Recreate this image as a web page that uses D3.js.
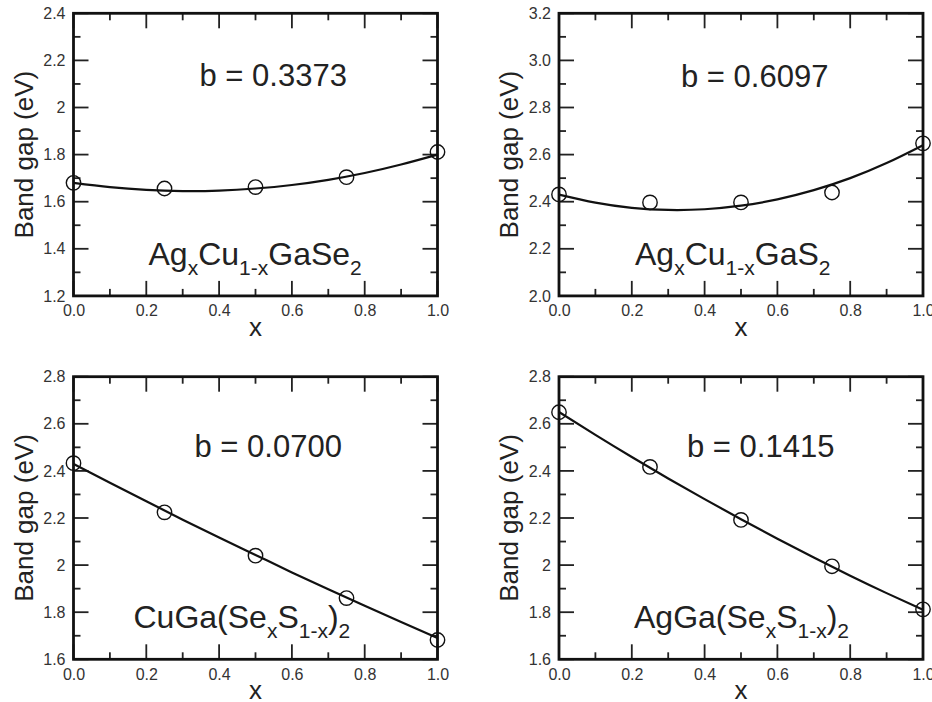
<!DOCTYPE html>
<html>
<head>
<meta charset="utf-8">
<script src="https://cdn.jsdelivr.net/npm/d3@7"></script>
<style>
  body { margin: 0; background: #fff; }
  text { font-family: "Liberation Sans", Arial, Helvetica, sans-serif; }
</style>
</head>
<body>
<div id="chart"></div>
<script>
// composition x of the calculated points
var xPoints = [0, 0.25, 0.5, 0.75, 1.0];
var xFit = [0, 0.1, 0.2, 0.3, 0.4, 0.5, 0.6, 0.7, 0.8, 0.9, 1.0];

// calculated band gaps (eV)
var gapAgCuGaSe2 = [1.680, 1.656, 1.662, 1.704, 1.811];
var gapAgCuGaS2 = [2.431, 2.397, 2.397, 2.439, 2.648];
var gapCuGaSeS = [2.433, 2.224, 2.040, 1.860, 1.682];
var gapAgGaSeS = [2.649, 2.417, 2.192, 1.995, 1.812];

// fitted curves (eV)
var fitAgCuGaSe2 = [1.680, 1.662, 1.650, 1.645, 1.647, 1.656, 1.671, 1.693, 1.722, 1.758, 1.800];
var fitAgCuGaS2 = [2.430, 2.396, 2.374, 2.365, 2.368, 2.383, 2.410, 2.449, 2.500, 2.564, 2.640];
var fitCuGaSeS = [2.430, 2.350, 2.271, 2.193, 2.117, 2.043, 1.969, 1.897, 1.827, 1.758, 1.690];
var fitAgGaSeS = [2.650, 2.553, 2.459, 2.368, 2.280, 2.195, 2.112, 2.032, 1.955, 1.881, 1.810];

var bowing = ["0.3373", "0.6097", "0.0700", "0.1415"];

// formula pieces: [text, isSubscript]
var formulas = [
  [["Ag", 0], ["x", 1], ["Cu", 0], ["1-x", 1], ["GaSe", 0], ["2", 1]],
  [["Ag", 0], ["x", 1], ["Cu", 0], ["1-x", 1], ["GaS", 0], ["2", 1]],
  [["CuGa(Se", 0], ["x", 1], ["S", 0], ["1-x", 1], [")", 0], ["2", 1]],
  [["AgGa(Se", 0], ["x", 1], ["S", 0], ["1-x", 1], [")", 0], ["2", 1]]
];

var xTicks = [0, 0.2, 0.4, 0.6, 0.8, 1.0];
var xMinor = [0.1, 0.3, 0.5, 0.7, 0.9];
var xTickLabels = ["0.0", "0.2", "0.4", "0.6", "0.8", "1.0"];
var yTicks = [
  [1.2, 1.4, 1.6, 1.8, 2.0, 2.2, 2.4],
  [2.0, 2.2, 2.4, 2.6, 2.8, 3.0, 3.2],
  [1.6, 1.8, 2.0, 2.2, 2.4, 2.6, 2.8],
  [1.6, 1.8, 2.0, 2.2, 2.4, 2.6, 2.8]
];
var yMinor = [
  [1.3, 1.5, 1.7, 1.9, 2.1, 2.3],
  [2.1, 2.3, 2.5, 2.7, 2.9, 3.1],
  [1.7, 1.9, 2.1, 2.3, 2.5, 2.7],
  [1.7, 1.9, 2.1, 2.3, 2.5, 2.7]
];
var yTickLabels = [
  ["1.2", "1.4", "1.6", "1.8", "2", "2.2", "2.4"],
  ["2.0", "2.2", "2.4", "2.6", "2.8", "3.0", "3.2"],
  ["1.6", "1.8", "2", "2.2", "2.4", "2.6", "2.8"],
  ["1.6", "1.8", "2", "2.2", "2.4", "2.6", "2.8"]
];

var series = [
  {pts: gapAgCuGaSe2, fit: fitAgCuGaSe2},
  {pts: gapAgCuGaS2, fit: fitAgCuGaS2},
  {pts: gapCuGaSeS, fit: fitCuGaSeS},
  {pts: gapAgGaSeS, fit: fitAgGaSeS}
];

// layout of each panel (pixels) and label offsets inside it
var layout = [
  {left: 73.5, top: 13.3, bx: 126, by: 73, fx: 75, fy: 252},
  {left: 559, top: 13.3, bx: 122, by: 74, fx: 76, fy: 252},
  {left: 73.5, top: 376.7, bx: 121, by: 80, fx: 60, fy: 251},
  {left: 559, top: 376.7, bx: 128, by: 80, fx: 75, fy: 251}
];
var pw = 364, ph = 282.6;
var majorLen = 15, minorLen = 7, tickW = 1.8;

var width = 932, height = 702;

var svg = d3.select("#chart").append("svg")
    .attr("width", width)
    .attr("height", height);

series.forEach(function(s, i) {
  var L = layout[i];
  var ticks = yTicks[i];
  var g = svg.append("g")
      .attr("transform", "translate(" + L.left + "," + L.top + ")");

  var x = d3.scaleLinear().domain([0, 1]).range([0, pw]);
  var y = d3.scaleLinear().domain([ticks[0], ticks[ticks.length - 1]]).range([ph, 0]);

  // inward ticks on all four sides (thin rects, one per tick)
  var h = tickW / 2;
  var tickSpecs = [];
  [[xTicks, majorLen], [xMinor, minorLen]].forEach(function(t) {
    t[0].forEach(function(d) {
      tickSpecs.push({x: x(d) - h, y: ph - t[1], w: tickW, h: t[1]});
      tickSpecs.push({x: x(d) - h, y: 0, w: tickW, h: t[1]});
    });
  });
  [[ticks, majorLen], [yMinor[i], minorLen]].forEach(function(t) {
    t[0].forEach(function(d) {
      tickSpecs.push({x: 0, y: y(d) - h, w: t[1], h: tickW});
      tickSpecs.push({x: pw - t[1], y: y(d) - h, w: t[1], h: tickW});
    });
  });
  g.selectAll("rect.tick")
    .data(tickSpecs)
    .enter().append("rect")
    .attr("class", "tick")
    .attr("x", function(d) { return d.x; })
    .attr("y", function(d) { return d.y; })
    .attr("width", function(d) { return d.w; })
    .attr("height", function(d) { return d.h; })
    .attr("fill", "#222");

  // tick labels through d3 axes
  var ax = g.append("g").attr("transform", "translate(0," + ph + ")")
    .call(d3.axisBottom(x).tickValues(xTicks).tickSize(0).tickPadding(9)
      .tickFormat(function(d, k) { return xTickLabels[k]; }));
  var ay = g.append("g")
    .call(d3.axisLeft(y).tickValues(ticks).tickSize(0).tickPadding(8)
      .tickFormat(function(d, k) { return yTickLabels[i][k]; }));
  [ax, ay].forEach(function(a) {
    a.select(".domain").remove();
    a.selectAll("text").attr("font-size", 16).attr("fill", "#333");
  });

  // frame
  g.append("rect")
    .attr("width", pw).attr("height", ph)
    .attr("fill", "none").attr("stroke", "#111").attr("stroke-width", 2.8);

  // fitted curve
  var line = d3.line()
      .x(function(d, k) { return x(xFit[k]); })
      .y(function(d) { return y(d); })
      .curve(d3.curveNatural);
  g.append("path")
    .datum(s.fit)
    .attr("d", line)
    .attr("fill", "none")
    .attr("stroke", "#111")
    .attr("stroke-width", 2.2);

  // calculated points
  g.selectAll("circle.pt")
    .data(s.pts)
    .enter().append("circle")
    .attr("class", "pt")
    .attr("cx", function(d, k) { return x(xPoints[k]); })
    .attr("cy", function(d) { return y(d); })
    .attr("r", 7.2)
    .attr("fill", "none")
    .attr("stroke", "#111")
    .attr("stroke-width", 1.4);

  // axis titles
  g.append("text")
    .attr("transform", "translate(-41," + (ph / 2) + ") rotate(-90)")
    .attr("text-anchor", "middle")
    .attr("font-size", 26)
    .attr("fill", "#222")
    .text("Band gap (eV)");
  g.append("text")
    .attr("x", pw / 2)
    .attr("y", ph + 40)
    .attr("text-anchor", "middle")
    .attr("font-size", 26)
    .attr("fill", "#222")
    .text("x");

  // bowing parameter
  g.append("text")
    .attr("x", L.bx)
    .attr("y", L.by)
    .attr("font-size", 31)
    .attr("fill", "#222")
    .text("b = " + bowing[i]);

  // compound formula
  var ft = g.append("text")
    .attr("x", L.fx)
    .attr("y", L.fy)
    .attr("fill", "#222");
  var shift = 0;
  formulas[i].forEach(function(p) {
    var target = p[1] ? 10 : 0;
    ft.append("tspan")
      .attr("font-size", p[1] ? 21 : 32)
      .attr("dy", target - shift)
      .text(p[0]);
    shift = target;
  });
});
</script>
</body>
</html>
